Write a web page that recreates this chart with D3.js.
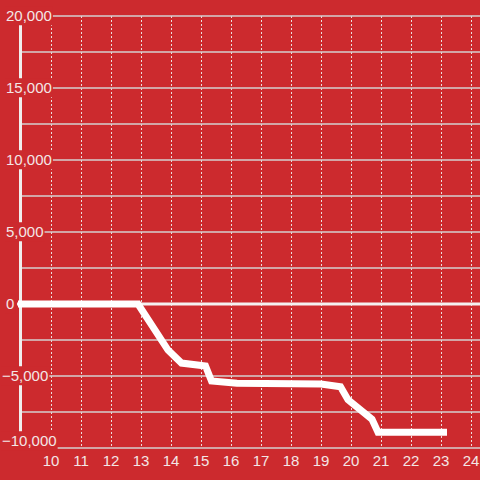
<!DOCTYPE html>
<html>
<head>
<meta charset="utf-8">
<script src="https://cdn.jsdelivr.net/npm/d3@7"></script>
<style>
  html, body { margin: 0; padding: 0; background: #cc2a2e; }
  svg { display: block; }
</style>
</head>
<body>
<div id="chart"></div>
<script>
// line values
const xs = [8.9, 12.9, 13.9, 14.35, 15.15, 15.35, 16.2, 19.0, 19.65, 19.9, 20.7, 20.9, 23.2];
const ys = [0, 0, -3200, -4100, -4300, -5350, -5500, -5550, -5750, -6650, -8000, -8900, -8900];

const xTicks = [10, 11, 12, 13, 14, 15, 16, 17, 18, 19, 20, 21, 22, 23, 24];
const yTicks = [-10000, -5000, 0, 5000, 10000, 15000, 20000];
const yGrid = d3.range(-10000, 20001, 2500);

const width = 480;
const height = 480;
const bg = "#cc2a2e";

const svg = d3.select("#chart")
              .append("svg")
              .attr("width", width)
              .attr("height", height);

svg.append("rect")
   .attr("width", width)
   .attr("height", height)
   .attr("fill", bg);

const xScale = d3.scaleLinear()
                 .domain([10, 24])
                 .range([51, 471]);

const yScale = d3.scaleLinear()
                 .domain([-10000, 20000])
                 .range([448, 16]);

// vertical dotted grid
svg.selectAll(".vgrid")
   .data(xTicks)
   .enter()
   .append("line")
   .attr("class", "vgrid")
   .attr("x1", d => Math.round(xScale(d)) + 0.5)
   .attr("x2", d => Math.round(xScale(d)) + 0.5)
   .attr("y1", yScale(20000))
   .attr("y2", yScale(-10000))
   .attr("stroke", "#eadede")
   .attr("stroke-width", 1)
   .attr("stroke-dasharray", "2,2");

// horizontal grid
svg.selectAll(".hgrid")
   .data(yGrid.filter(d => d !== 0))
   .enter()
   .append("line")
   .attr("class", "hgrid")
   .attr("x1", 21)
   .attr("x2", width)
   .attr("y1", d => yScale(d))
   .attr("y2", d => yScale(d))
   .attr("stroke", "#d4d0d0")
   .attr("stroke-width", 1.5);

// y axis bar
svg.append("line")
   .attr("x1", 20.5)
   .attr("x2", 20.5)
   .attr("y1", yScale(20000))
   .attr("y2", yScale(-10000))
   .attr("stroke", "#f0eeee")
   .attr("stroke-width", 3);

// zero line
svg.append("line")
   .attr("x1", 17)
   .attr("x2", width)
   .attr("y1", yScale(0))
   .attr("y2", yScale(0))
   .attr("stroke", "#f4f0f0")
   .attr("stroke-width", 3);

// data line
const line = d3.line()
               .x(d => xScale(d[0]))
               .y(d => yScale(d[1]));

svg.append("path")
   .datum(xs.map((x, i) => [x, ys[i]]))
   .attr("d", line)
   .attr("fill", "none")
   .attr("stroke", "#ffffff")
   .attr("stroke-width", 7)
   .attr("stroke-linejoin", "miter");

// y labels with background boxes
const fmt = d3.format(",");
const yLab = svg.selectAll(".ylab")
                .data(yTicks)
                .enter()
                .append("g")
                .attr("class", "ylab");

yLab.append("text")
    .attr("x", d => d < 0 ? 2 : 6)
    .attr("y", d => yScale(d) - (d === -10000 ? 7 : 0))
    .attr("dy", "0.35em")
    .attr("text-anchor", "start")
    .style("font-family", "Liberation Sans, Arial, sans-serif")
    .style("font-size", "15px")
    .attr("fill", "#f3e6e6")
    .text(d => fmt(d));

yLab.each(function() {
  const g = d3.select(this);
  const b = g.select("text").node().getBBox();
  g.insert("rect", "text")
   .attr("x", b.x - 1)
   .attr("y", b.y - 1)
   .attr("width", b.width + 2)
   .attr("height", b.height + 2)
   .attr("fill", bg);
});

// x labels
svg.selectAll(".xlab")
   .data(xTicks)
   .enter()
   .append("text")
   .attr("class", "xlab")
   .attr("x", d => xScale(d))
   .attr("y", 466)
   .attr("text-anchor", "middle")
   .style("font-family", "Liberation Sans, Arial, sans-serif")
   .style("font-size", "15px")
   .attr("fill", "#f3e6e6")
   .text(d => d);
</script>
</body>
</html>
